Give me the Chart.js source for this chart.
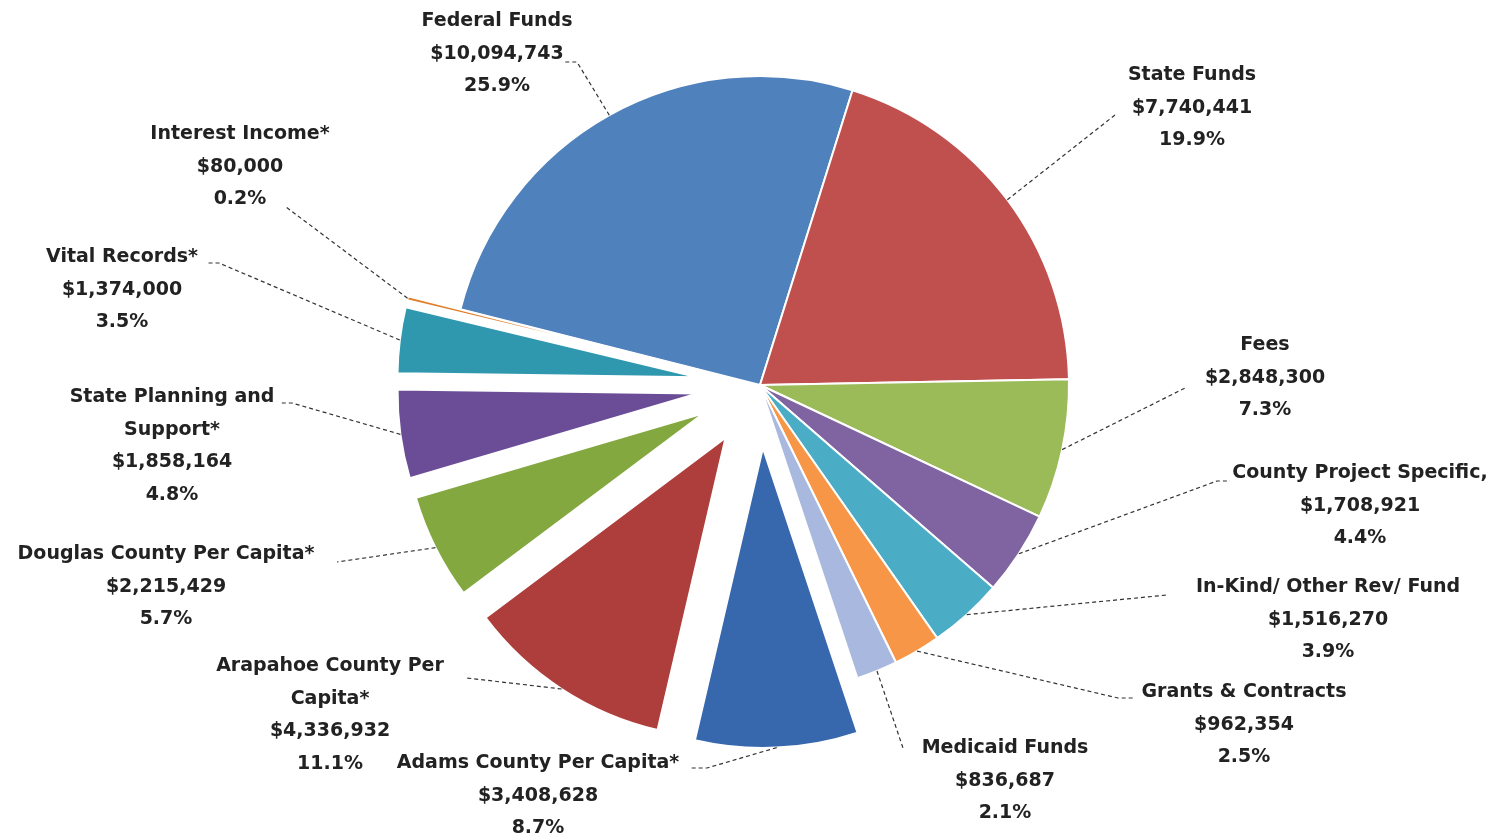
<!DOCTYPE html>
<html>
<head>
<meta charset="utf-8">
<script src="https://cdn.jsdelivr.net/npm/chart.js@4"></script>
<style>
  html, body { margin: 0; padding: 0; background: #fff; }
  #wrap { position: relative; width: 1502px; height: 836px; }
</style>
</head>
<body>
<div id="wrap"><canvas id="revenuePie"></canvas></div>
<script>
// Revenue sources, in the order the pie draws them (clockwise from Federal Funds)
const categories = [
  ["Federal Funds"],
  ["State Funds"],
  ["Fees"],
  ["County Project Specific,"],
  ["In-Kind/ Other Rev/ Fund"],
  ["Grants & Contracts"],
  ["Medicaid Funds"],
  ["Adams County Per Capita*"],
  ["Arapahoe County Per", "Capita*"],
  ["Douglas County Per Capita*"],
  ["State Planning and", "Support*"],
  ["Vital Records*"],
  ["Interest Income*"],
];
const amounts = [
  10094743, 7740441, 2848300, 1708921, 1516270, 962354, 836687, 3408628,
  4336932, 2215429, 1858164, 1374000, 80000,
];

// styling
const sliceColors = [
  "#4F81BD", "#C0504D", "#9BBB59", "#8064A2", "#4BACC6", "#F79646",
  "#A9B8DE", "#3767AC", "#AD3E3B", "#83A83F", "#6A4D96", "#2F98AF", "#E0802E",
];
const explodedSlices = [
  "Adams County Per Capita*", "Arapahoe County Per", "Douglas County Per Capita*",
  "State Planning and", "Vital Records*", "Interest Income*",
];
const PIE_RADIUS = 309;
const EXPLODED_RADIUS = 300;
const EXPLODE_PX = 63;

// where each callout sits: text centre x, first line y, leader points back toward the label
const labelLayout = [
  { x: 497, y: 21, leader: [[577, 62], [564, 62]] },
  { x: 1192, y: 75, leader: [[1115, 115]] },
  { x: 1265, y: 345, leader: [[1187, 387]] },
  { x: 1360, y: 473, leader: [[1217, 481], [1230, 481]] },
  { x: 1328, y: 587, leader: [[1167, 595]] },
  { x: 1244, y: 692, leader: [[1118, 698], [1135, 698]] },
  { x: 1005, y: 748, leader: [[903, 748]] },
  { x: 538, y: 763, leader: [[707, 768], [690, 768]] },
  { x: 330, y: 666, leader: [[467, 678]] },
  { x: 166, y: 554, leader: [[337, 562]] },
  { x: 172, y: 397, leader: [[292, 403], [279, 403]] },
  { x: 122, y: 257, leader: [[219, 263], [207, 263]] },
  { x: 240, y: 134, leader: [[286, 207]] },
];

const total = amounts.reduce((a, b) => a + b, 0);

// Chart.js grows small exploded wedges and trims their angle; undo that so
// exploded slices keep a fixed radius and their true angle.
const explodeFix = {
  id: "explodeFix",
  afterUpdate(chart) {
    const meta = chart.getDatasetMeta(0);
    meta.data.forEach((arc) => {
      const t = (arc.options.offset || 0) / 4;
      if (!t) return;
      const fix = 1 - Math.sin(Math.min(Math.PI, arc.circumference));
      const radiusOffset = t * fix;
      arc.outerRadius = EXPLODED_RADIUS - radiusOffset;
      const d = radiusOffset / Math.PI / 2 / EXPLODED_RADIUS;
      arc.startAngle -= d;
      arc.endAngle += d;
    });
  },
};

const calloutLabels = {
  id: "calloutLabels",
  afterDatasetsDraw(chart) {
    const ctx = chart.ctx;
    const meta = chart.getDatasetMeta(0);
    ctx.save();
    meta.data.forEach((arc, i) => {
      const layout = labelLayout[i];
      const mid = (arc.startAngle + arc.endAngle) / 2;
      const t = (arc.options.offset || 0) / 4;
      const r = t ? EXPLODED_RADIUS + t : PIE_RADIUS;
      const ax = arc.x + Math.cos(mid) * r;
      const ay = arc.y + Math.sin(mid) * r;

      ctx.beginPath();
      ctx.moveTo(ax, ay);
      layout.leader.forEach((p) => ctx.lineTo(p[0], p[1]));
      ctx.setLineDash([4, 3]);
      ctx.strokeStyle = "#333";
      ctx.lineWidth = 1.2;
      ctx.stroke();

      const lines = [
        ...categories[i],
        "$" + amounts[i].toLocaleString("en-US"),
        ((amounts[i] / total) * 100).toFixed(1) + "%",
      ];
      ctx.setLineDash([]);
      ctx.fillStyle = "#222";
      ctx.font = "bold 19px 'DejaVu Sans'";
      ctx.textAlign = "center";
      ctx.textBaseline = "middle";
      lines.forEach((line, j) => {
        ctx.fillText(line, layout.x, layout.y + j * 32.6);
      });
    });
    ctx.restore();
  },
};

new Chart(document.getElementById("revenuePie"), {
  type: "pie",
  data: {
    labels: categories,
    datasets: [
      {
        data: amounts,
        backgroundColor: sliceColors,
        borderColor: "#ffffff",
        borderWidth: 2,
        offset: categories.map((c) =>
          explodedSlices.includes(c[0]) ? EXPLODE_PX * 4 : 0,
        ),
      },
    ],
  },
  options: {
    responsive: true,
    maintainAspectRatio: false,
    animation: false,
    events: [],
    rotation: -75.8,
    radius: PIE_RADIUS,
    layout: { padding: { left: 18, right: 0, top: 0, bottom: 66 } },
    plugins: {
      legend: { display: false },
      tooltip: { enabled: false },
    },
  },
  plugins: [explodeFix, calloutLabels],
});
</script>
</body>
</html>
